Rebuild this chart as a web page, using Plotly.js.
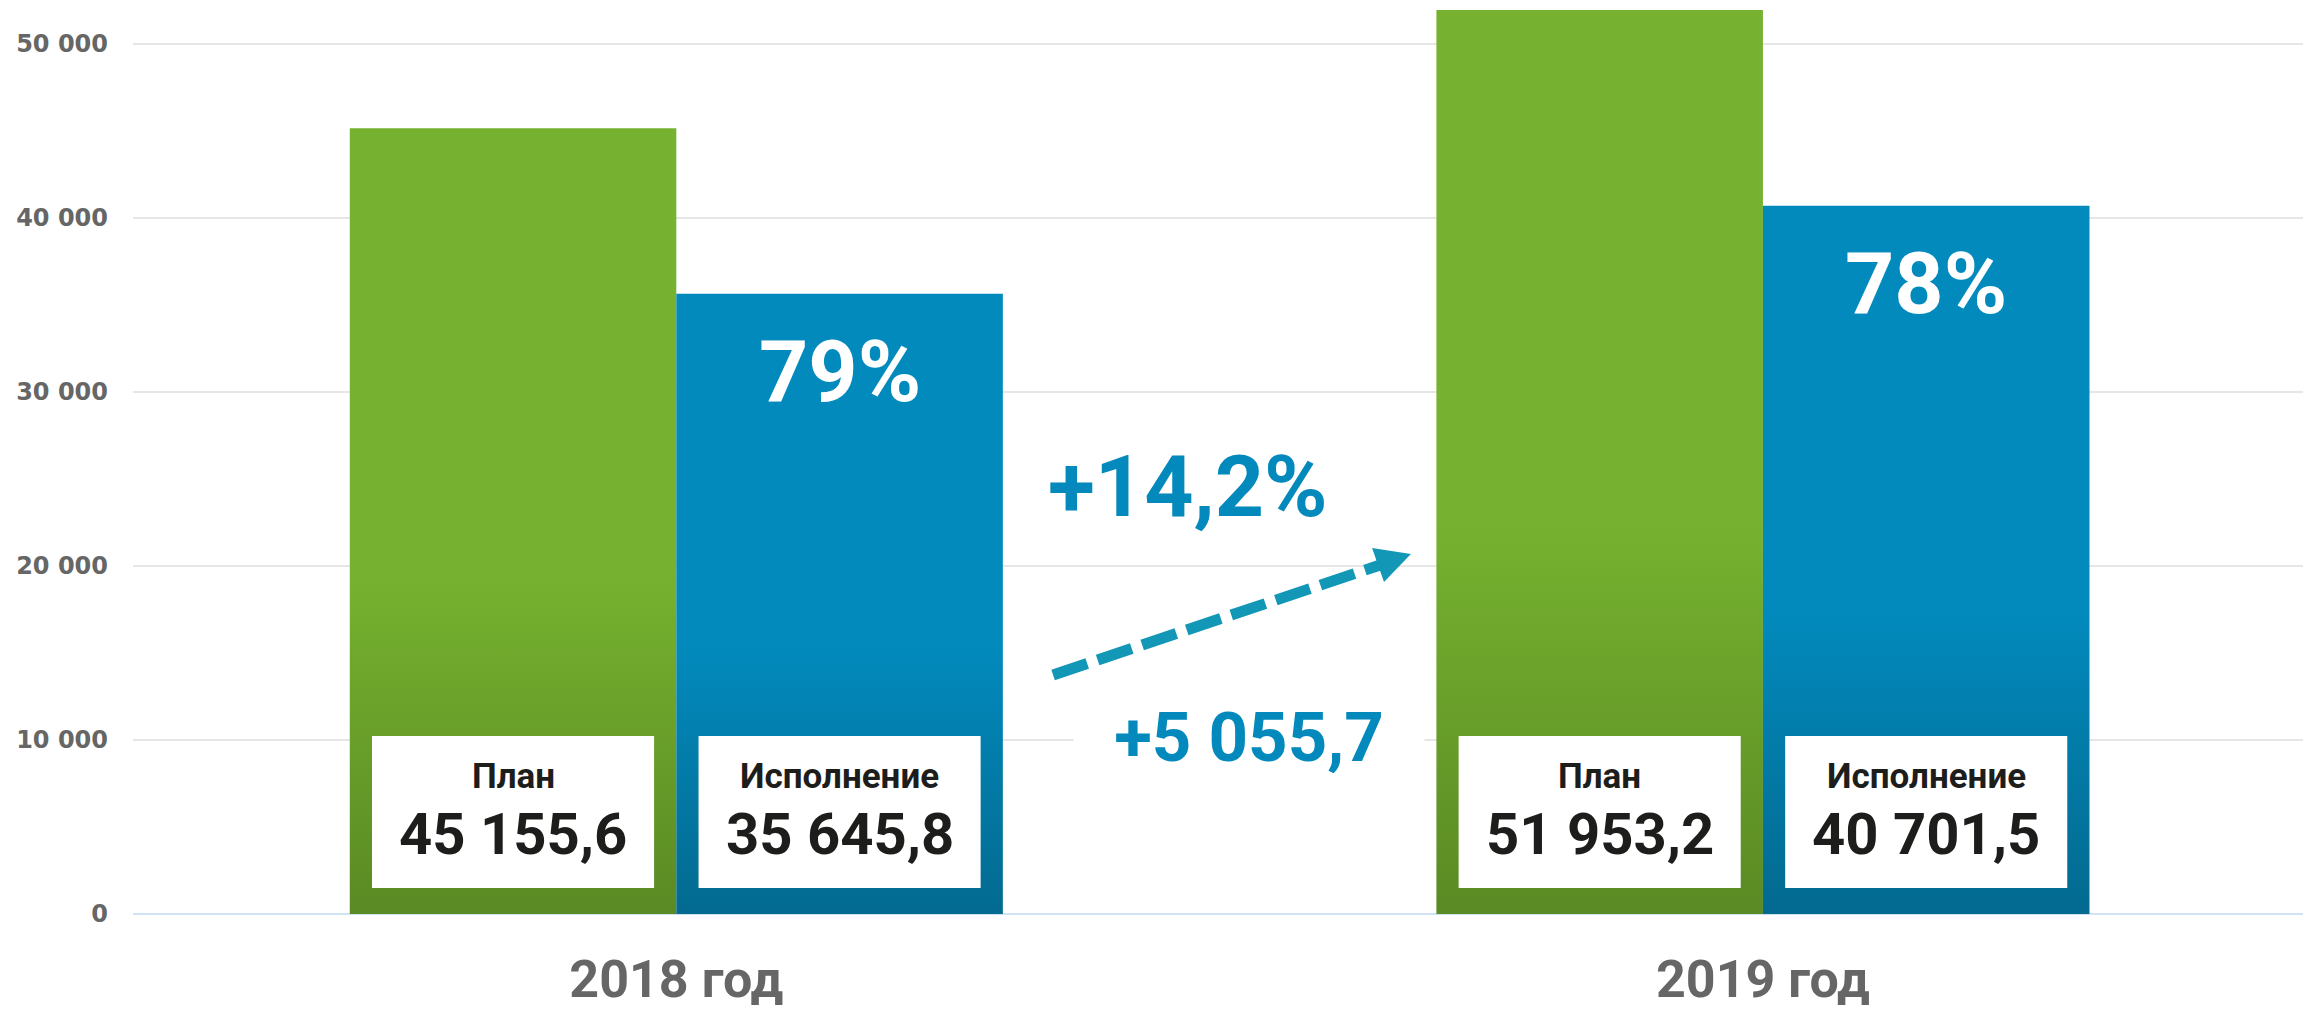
<!DOCTYPE html>
<html>
<head>
<meta charset="utf-8">
<script src="https://cdn.plot.ly/plotly-3.0.1.min.js"></script>
<style>
  html, body { margin: 0; padding: 0; background: #ffffff; }
  #chart { width: 2303px; height: 1009px; }
</style>
</head>
<body>
<div id="chart"></div>
<script>
// ---- data ----
const categories = ['2018 год', '2019 год'];
const seriesNames = ['План', 'Исполнение'];
const planValues = [45155.6, 51953.2];
const execValues = [35645.8, 40701.5];
const yTickValues = [0, 10000, 20000, 30000, 40000, 50000];

// ---- helpers ----
function formatRu(v) {
  const parts = Math.abs(v).toFixed(1).split('.');
  const intPart = parts[0].replace(/\B(?=(\d{3})+(?!\d))/g, ' ');
  return (v < 0 ? '-' : '') + intPart + ',' + parts[1];
}
function fmtTick(v) {
  return String(v).replace(/\B(?=(\d{3})+(?!\d))/g, ' ');
}

const GREEN = '#76b22f', GREEN_DARK = '#5a8a24';
const BLUE = '#028abd', BLUE_DARK = '#036a90';
const ACCENT = '#0389bb', ARROW = '#1298b6';
const BARGAP = 0.399;
const BAR_OFFSET = (1 - BARGAP) / 4;
const BOX_HALF = 0.1298;
const TXT = 'Roboto, "Open Sans", sans-serif';

const traces = [
  {
    type: 'bar', name: seriesNames[0], x: categories, y: planValues,
    marker: { color: GREEN, line: { width: 0 } }, hoverinfo: 'none'
  },
  {
    type: 'bar', name: seriesNames[1], x: categories, y: execValues,
    marker: { color: BLUE, line: { width: 0 } }, hoverinfo: 'none'
  }
];

const shapes = [];
const annotations = [];
const seriesVals = [planValues, execValues];

categories.forEach((c, i) => {
  seriesVals.forEach((vals, j) => {
    const cx = i + (j === 0 ? -BAR_OFFSET : BAR_OFFSET);
    shapes.push({
      type: 'rect', xref: 'x', yref: 'paper',
      x0: cx - BOX_HALF, x1: cx + BOX_HALF, y0: 0.0284, y1: 0.1947,
      fillcolor: '#ffffff', line: { width: 0 }, layer: 'above'
    });
    annotations.push({
      xref: 'x', yref: 'paper', x: cx, y: 0.1499, showarrow: false,
      text: seriesNames[j], xanchor: 'center', yanchor: 'middle',
      font: { family: TXT, size: 35, weight: 700, color: '#1d1d1b' }
    });
    annotations.push({
      xref: 'x', yref: 'paper', x: cx, y: 0.0875, showarrow: false,
      text: formatRu(vals[i]), xanchor: 'center', yanchor: 'middle',
      font: { family: TXT, size: 58, weight: 700, color: '#1d1d1b' }
    });
  });
  // execution percent
  const pct = Math.round(execValues[i] / planValues[i] * 100) + '%';
  annotations.push({
    xref: 'x', yref: 'y', x: i + BAR_OFFSET, y: execValues[i], yshift: -78,
    showarrow: false, text: pct, xanchor: 'center', yanchor: 'middle',
    font: { family: TXT, size: 86, weight: 700, color: '#ffffff' }
  });
});

const growth = ((execValues[1] / execValues[0] - 1) * 100).toFixed(1).replace('.', ',');
const diff = execValues[1] - execValues[0];

annotations.push({
  xref: 'paper', yref: 'paper', x: 0.4862, y: 0.4677, showarrow: false,
  text: '+' + growth + '%', xanchor: 'center', yanchor: 'middle',
  font: { family: TXT, size: 86, weight: 700, color: ACCENT }
});
annotations.push({
  xref: 'paper', yref: 'paper', x: 0.5143, y: 0.1937, showarrow: false,
  text: '+' + formatRu(diff), xanchor: 'center', yanchor: 'middle',
  width: 348, height: 72, bgcolor: '#ffffff',
  font: { family: TXT, size: 69, weight: 700, color: ACCENT }
});

// dashed arrow
shapes.push({
  type: 'line', xref: 'paper', yref: 'paper',
  x0: 0.4240, y0: 0.2615, x1: 0.5747, y1: 0.3818,
  line: { color: ARROW, width: 11, dash: '36px,11px' }, layer: 'above'
});
shapes.push({
  type: 'path', xref: 'paper', yref: 'paper',
  path: 'M0.5710,0.4004 L0.5889,0.3939 L0.5765,0.3632 Z',
  fillcolor: ARROW, line: { width: 0 }, layer: 'above'
});

const layout = {
  width: 2303, height: 1009,
  margin: { l: 133, r: 0, t: 0, b: 95, pad: 0 },
  paper_bgcolor: '#ffffff', plot_bgcolor: '#ffffff',
  showlegend: false, barmode: 'group', bargap: BARGAP, bargroupgap: 0,
  xaxis: {
    type: 'category', range: [-0.5, 1.497], showgrid: false, zeroline: false,
    showline: false, ticks: '', ticklabelstandoff: 30,
    tickfont: { family: TXT, size: 52, weight: 700, color: '#666666' }
  },
  yaxis: {
    range: [0, 52530], tickvals: yTickValues, ticktext: yTickValues.map(fmtTick),
    showgrid: true, gridcolor: '#e6e6e6', gridwidth: 1.5,
    zeroline: true, zerolinecolor: '#cfe3f5', zerolinewidth: 2,
    showline: false, ticks: '', ticklabelstandoff: 24,
    tickfont: { family: '"DejaVu Sans", sans-serif', size: 24, weight: 700, color: '#666666' }
  },
  shapes: shapes,
  annotations: annotations
};

Plotly.newPlot('chart', traces, layout, { displayModeBar: false, staticPlot: true }).then(gd => {
  // vertical gradients on bars
  const svg = gd.querySelector('svg.main-svg');
  const NS = 'http://www.w3.org/2000/svg';
  let defs = svg.querySelector('defs');
  if (!defs) { defs = document.createElementNS(NS, 'defs'); svg.insertBefore(defs, svg.firstChild); }
  const grads = [['gradPlan', GREEN, GREEN_DARK], ['gradExec', BLUE, BLUE_DARK]];
  grads.forEach(([id, c1, c2]) => {
    const g = document.createElementNS(NS, 'linearGradient');
    g.setAttribute('id', id);
    g.setAttribute('x1', '0'); g.setAttribute('y1', '0');
    g.setAttribute('x2', '0'); g.setAttribute('y2', '1');
    [[0, c1], [0.57, c1], [1, c2]].forEach(([o, c]) => {
      const s = document.createElementNS(NS, 'stop');
      s.setAttribute('offset', o);
      s.setAttribute('stop-color', c);
      g.appendChild(s);
    });
    defs.appendChild(g);
  });
  const traceGroups = gd.querySelectorAll('.barlayer .trace');
  traceGroups.forEach((tg, k) => {
    tg.querySelectorAll('path').forEach(p => { p.style.fill = 'url(#' + grads[k][0] + ')'; });
  });
});
</script>
</body>
</html>
